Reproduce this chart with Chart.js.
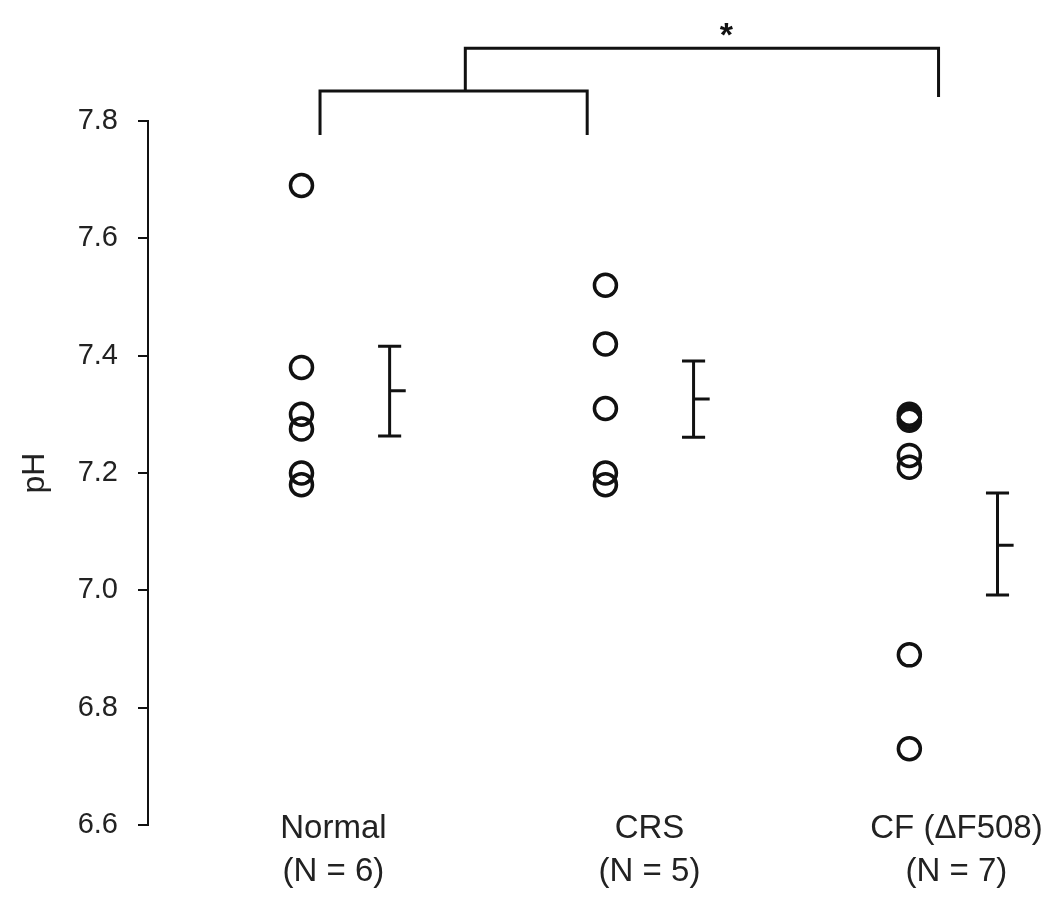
<!DOCTYPE html>
<html>
<head>
<meta charset="utf-8">
<script src="https://cdn.jsdelivr.net/npm/chart.js@4/dist/chart.umd.min.js"></script>
<style>
  html, body { margin: 0; padding: 0; background: #fff; }
  #wrap { width: 1050px; height: 900px; position: relative; }
</style>
</head>
<body>
<div id="wrap"><canvas id="phChart"></canvas></div>
<script>
// groups and their labels
const groups = ["Normal", "CRS", "CF (\u0394F508)"];
const groupN = ["(N = 6)", "(N = 5)", "(N = 7)"];
const labelPos = [0.96, 2, 3.01];

// individual pH values
const normalPH = [7.69, 7.38, 7.30, 7.275, 7.20, 7.18];
const crsPH = [7.52, 7.42, 7.31, 7.20, 7.18];
const cfPH = [7.30, 7.295, 7.29, 7.23, 7.21, 6.89, 6.73];

// mean +/- SEM per group
const meanPH = [7.34, 7.326, 7.077];
const semLo = [7.263, 7.261, 6.992];
const semHi = [7.416, 7.391, 7.166];

// y ticks
const yTicks = [6.6, 6.8, 7.0, 7.2, 7.4, 7.6, 7.8];

const FONT = "'Liberation Sans', Arial, Helvetica, sans-serif";
const INK = "#111";
const pointOffset = -0.145;
const barOffset = 0.145;
const capHalf = 0.038;
const meanTick = 0.053;

function scatterSet(values, g) {
  return {
    type: "scatter",
    data: values.map((v) => ({ x: g + pointOffset, y: v })),
    pointStyle: "circle",
    pointRadius: 11,
    borderWidth: 3.5,
    borderColor: INK,
    backgroundColor: "rgba(0,0,0,0)",
  };
}

// error bar: vertical line, caps on both ends, mean tick to the right
function errorSet(i) {
  const x = i + 1 + barOffset;
  const gap = { x: x, y: null };
  return {
    type: "line",
    data: [
      { x: x, y: semHi[i] }, { x: x, y: semLo[i] }, gap,
      { x: x - capHalf, y: semHi[i] }, { x: x + capHalf, y: semHi[i] }, gap,
      { x: x - capHalf, y: semLo[i] }, { x: x + capHalf, y: semLo[i] }, gap,
      { x: x, y: meanPH[i] }, { x: x + meanTick, y: meanPH[i] },
    ],
    borderColor: INK,
    borderWidth: 3,
    pointRadius: 0,
    spanGaps: false,
    fill: false,
  };
}

// significance brackets above the plot area
function bracketSet(points) {
  return {
    type: "line",
    data: points.map((p) => ({ x: p[0], y: p[1] })),
    borderColor: INK,
    borderWidth: 3,
    pointRadius: 0,
    fill: false,
    clip: false,
    tension: 0,
  };
}

const lowerBracket = [[0.916, 7.776], [0.916, 7.851], [1.795, 7.851], [1.795, 7.776]];
const upperBracket = [[1.394, 7.851], [1.394, 7.924], [2.951, 7.924], [2.951, 7.841]];

// asterisk + two-line group names under the axis
const textPlugin = {
  id: "texts",
  afterDraw(chart) {
    const { ctx, scales } = chart;
    ctx.save();
    ctx.fillStyle = INK;
    ctx.font = "bold 34px " + FONT;
    ctx.textAlign = "center";
    ctx.textBaseline = "middle";
    ctx.fillText("*", scales.x.getPixelForValue(2.253), scales.y.getPixelForValue(7.944));

    ctx.fillStyle = "#222";
    ctx.font = "33px " + FONT;
    ctx.textBaseline = "alphabetic";
    const base = scales.y.bottom;
    labelPos.forEach((v, i) => {
      const px = scales.x.getPixelForValue(v);
      ctx.fillText(groups[i], px, base + 13);
      ctx.fillText(groupN[i], px, base + 56);
    });
    ctx.restore();
  },
};

new Chart(document.getElementById("phChart"), {
  type: "scatter",
  data: {
    datasets: [
      scatterSet(normalPH, 1),
      scatterSet(crsPH, 2),
      scatterSet(cfPH, 3),
      errorSet(0),
      errorSet(1),
      errorSet(2),
      bracketSet(lowerBracket),
      bracketSet(upperBracket),
    ],
  },
  options: {
    responsive: true,
    maintainAspectRatio: false,
    animation: false,
    events: [],
    layout: { padding: { top: 121, right: 6, left: 0, bottom: 0 } },
    plugins: { legend: { display: false }, tooltip: { enabled: false } },
    scales: {
      x: {
        type: "linear",
        min: 0.35,
        max: 3.27,
        grid: { display: false, drawTicks: false },
        border: { display: false },
        afterFit: (s) => { s.height = 75; },
        ticks: { display: false },
      },
      y: {
        type: "linear",
        min: 6.6,
        max: 7.8,
        afterBuildTicks: (s) => { s.ticks = yTicks.map((v) => ({ value: v })); },
        afterFit: (s) => { s.width = 148; },
        grid: { drawOnChartArea: false, drawTicks: true, tickLength: 10, color: INK, lineWidth: 2 },
        border: { display: true, color: INK, width: 2 },
        ticks: {
          padding: 20,
          color: "#222",
          font: { family: FONT, size: 29 },
          callback: (v) => v.toFixed(1),
        },
        title: {
          display: true,
          text: "pH",
          color: "#222",
          font: { family: FONT, size: 32 },
          padding: { top: 16, bottom: 0 },
        },
      },
    },
  },
  plugins: [textPlugin],
});
</script>
</body>
</html>
